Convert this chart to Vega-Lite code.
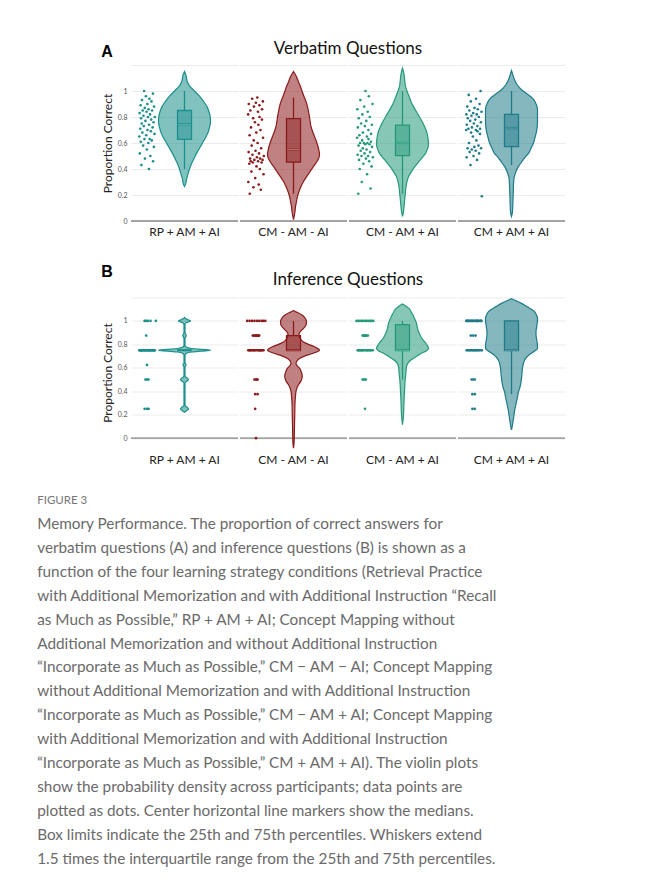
{
"$schema": "https://vega.github.io/schema/vega-lite/v6.json",
"padding": {"left": 37, "top": 40, "right": 10, "bottom": 10},
"background": "white",
"config": {
 "font": "Lato",
 "view": {"stroke": null},
 "axisY": {"grid": true, "gridColor": "#ebebeb", "gridWidth": 1, "domain": false, "ticks": false, "tickSize": 0, "labelFontSize": 7, "labelColor": "#555", "labelPadding": 3, "titleFontSize": 12, "titleFontWeight": "normal", "titleColor": "#222", "titlePadding": 3}
},
"datasets": {
"verb": [
{"c":"RP + AM + AI","k":"o","v":1.15,"w":0},{"c":"RP + AM + AI","k":"o","v":1.12,"w":3},{"c":"RP + AM + AI","k":"o","v":1.08,"w":5},{"c":"RP + AM + AI","k":"o","v":1.04,"w":10},{"c":"RP + AM + AI","k":"o","v":1.0,"w":20},{"c":"RP + AM + AI","k":"o","v":0.96,"w":30},{"c":"RP + AM + AI","k":"o","v":0.92,"w":38},{"c":"RP + AM + AI","k":"o","v":0.88,"w":45},{"c":"RP + AM + AI","k":"o","v":0.84,"w":49},{"c":"RP + AM + AI","k":"o","v":0.8,"w":51.5},{"c":"RP + AM + AI","k":"o","v":0.76,"w":52},{"c":"RP + AM + AI","k":"o","v":0.72,"w":50},{"c":"RP + AM + AI","k":"o","v":0.68,"w":47},{"c":"RP + AM + AI","k":"o","v":0.64,"w":42},{"c":"RP + AM + AI","k":"o","v":0.6,"w":36},{"c":"RP + AM + AI","k":"o","v":0.56,"w":30},{"c":"RP + AM + AI","k":"o","v":0.52,"w":24},{"c":"RP + AM + AI","k":"o","v":0.48,"w":19},{"c":"RP + AM + AI","k":"o","v":0.44,"w":14},{"c":"RP + AM + AI","k":"o","v":0.4,"w":10},{"c":"RP + AM + AI","k":"o","v":0.36,"w":7},{"c":"RP + AM + AI","k":"o","v":0.32,"w":4},{"c":"RP + AM + AI","k":"o","v":0.28,"w":2},{"c":"RP + AM + AI","k":"o","v":0.265,"w":0},
{"c":"CM - AM - AI","k":"o","v":1.15,"w":0},{"c":"CM - AM - AI","k":"o","v":1.11,"w":6},{"c":"CM - AM - AI","k":"o","v":1.07,"w":10},{"c":"CM - AM - AI","k":"o","v":1.035,"w":14},{"c":"CM - AM - AI","k":"o","v":1.0,"w":17},{"c":"CM - AM - AI","k":"o","v":0.958,"w":21},{"c":"CM - AM - AI","k":"o","v":0.92,"w":25},{"c":"CM - AM - AI","k":"o","v":0.88,"w":28},{"c":"CM - AM - AI","k":"o","v":0.84,"w":30},{"c":"CM - AM - AI","k":"o","v":0.8,"w":32},{"c":"CM - AM - AI","k":"o","v":0.76,"w":33.5},{"c":"CM - AM - AI","k":"o","v":0.727,"w":35},{"c":"CM - AM - AI","k":"o","v":0.69,"w":38},{"c":"CM - AM - AI","k":"o","v":0.65,"w":42},{"c":"CM - AM - AI","k":"o","v":0.61,"w":46},{"c":"CM - AM - AI","k":"o","v":0.573,"w":49},{"c":"CM - AM - AI","k":"o","v":0.54,"w":51},{"c":"CM - AM - AI","k":"o","v":0.52,"w":52},{"c":"CM - AM - AI","k":"o","v":0.49,"w":51},{"c":"CM - AM - AI","k":"o","v":0.458,"w":47},{"c":"CM - AM - AI","k":"o","v":0.42,"w":40},{"c":"CM - AM - AI","k":"o","v":0.38,"w":33},{"c":"CM - AM - AI","k":"o","v":0.34,"w":26},{"c":"CM - AM - AI","k":"o","v":0.304,"w":20},{"c":"CM - AM - AI","k":"o","v":0.265,"w":15},{"c":"CM - AM - AI","k":"o","v":0.227,"w":11},{"c":"CM - AM - AI","k":"o","v":0.19,"w":8},{"c":"CM - AM - AI","k":"o","v":0.15,"w":6},{"c":"CM - AM - AI","k":"o","v":0.11,"w":4},{"c":"CM - AM - AI","k":"o","v":0.073,"w":3},{"c":"CM - AM - AI","k":"o","v":0.04,"w":1.5},{"c":"CM - AM - AI","k":"o","v":0.01,"w":0},
{"c":"CM - AM + AI","k":"o","v":1.175,"w":0},{"c":"CM - AM + AI","k":"o","v":1.13,"w":3},{"c":"CM - AM + AI","k":"o","v":1.08,"w":4.5},{"c":"CM - AM + AI","k":"o","v":1.035,"w":6},{"c":"CM - AM + AI","k":"o","v":1.0,"w":9},{"c":"CM - AM + AI","k":"o","v":0.96,"w":13},{"c":"CM - AM + AI","k":"o","v":0.92,"w":17},{"c":"CM - AM + AI","k":"o","v":0.88,"w":22},{"c":"CM - AM + AI","k":"o","v":0.84,"w":28},{"c":"CM - AM + AI","k":"o","v":0.8,"w":34},{"c":"CM - AM + AI","k":"o","v":0.76,"w":40},{"c":"CM - AM + AI","k":"o","v":0.727,"w":44},{"c":"CM - AM + AI","k":"o","v":0.69,"w":48},{"c":"CM - AM + AI","k":"o","v":0.65,"w":50.5},{"c":"CM - AM + AI","k":"o","v":0.62,"w":51.5},{"c":"CM - AM + AI","k":"o","v":0.59,"w":52},{"c":"CM - AM + AI","k":"o","v":0.555,"w":50},{"c":"CM - AM + AI","k":"o","v":0.52,"w":46},{"c":"CM - AM + AI","k":"o","v":0.49,"w":40},{"c":"CM - AM + AI","k":"o","v":0.458,"w":33},{"c":"CM - AM + AI","k":"o","v":0.42,"w":25},{"c":"CM - AM + AI","k":"o","v":0.38,"w":18},{"c":"CM - AM + AI","k":"o","v":0.34,"w":12},{"c":"CM - AM + AI","k":"o","v":0.304,"w":9},{"c":"CM - AM + AI","k":"o","v":0.265,"w":7},{"c":"CM - AM + AI","k":"o","v":0.227,"w":6},{"c":"CM - AM + AI","k":"o","v":0.19,"w":5},{"c":"CM - AM + AI","k":"o","v":0.15,"w":4},{"c":"CM - AM + AI","k":"o","v":0.11,"w":3},{"c":"CM - AM + AI","k":"o","v":0.073,"w":2},{"c":"CM - AM + AI","k":"o","v":0.035,"w":0},
{"c":"CM + AM + AI","k":"o","v":1.157,"w":0},{"c":"CM + AM + AI","k":"o","v":1.12,"w":3},{"c":"CM + AM + AI","k":"o","v":1.086,"w":6},{"c":"CM + AM + AI","k":"o","v":1.05,"w":11},{"c":"CM + AM + AI","k":"o","v":1.01,"w":20},{"c":"CM + AM + AI","k":"o","v":0.975,"w":32},{"c":"CM + AM + AI","k":"o","v":0.945,"w":42},{"c":"CM + AM + AI","k":"o","v":0.91,"w":48},{"c":"CM + AM + AI","k":"o","v":0.88,"w":51},{"c":"CM + AM + AI","k":"o","v":0.855,"w":52},{"c":"CM + AM + AI","k":"o","v":0.8,"w":52},{"c":"CM + AM + AI","k":"o","v":0.765,"w":52},{"c":"CM + AM + AI","k":"o","v":0.73,"w":51.5},{"c":"CM + AM + AI","k":"o","v":0.688,"w":50},{"c":"CM + AM + AI","k":"o","v":0.65,"w":47.5},{"c":"CM + AM + AI","k":"o","v":0.6,"w":44},{"c":"CM + AM + AI","k":"o","v":0.56,"w":39},{"c":"CM + AM + AI","k":"o","v":0.52,"w":34},{"c":"CM + AM + AI","k":"o","v":0.49,"w":27},{"c":"CM + AM + AI","k":"o","v":0.458,"w":21},{"c":"CM + AM + AI","k":"o","v":0.42,"w":14},{"c":"CM + AM + AI","k":"o","v":0.39,"w":10},{"c":"CM + AM + AI","k":"o","v":0.36,"w":7},{"c":"CM + AM + AI","k":"o","v":0.33,"w":5},{"c":"CM + AM + AI","k":"o","v":0.28,"w":4},{"c":"CM + AM + AI","k":"o","v":0.227,"w":3.5},{"c":"CM + AM + AI","k":"o","v":0.17,"w":3},{"c":"CM + AM + AI","k":"o","v":0.11,"w":2.5},{"c":"CM + AM + AI","k":"o","v":0.07,"w":2},{"c":"CM + AM + AI","k":"o","v":0.035,"w":0},
{"c":"RP + AM + AI","k":"d","v":0.40,"j":0.62},{"c":"RP + AM + AI","k":"d","v":0.43,"j":0.15},{"c":"RP + AM + AI","k":"d","v":0.46,"j":0.88},{"c":"RP + AM + AI","k":"d","v":0.48,"j":0.37},{"c":"RP + AM + AI","k":"d","v":0.50,"j":0.71},{"c":"RP + AM + AI","k":"d","v":0.52,"j":0.05},{"c":"RP + AM + AI","k":"d","v":0.55,"j":0.49},{"c":"RP + AM + AI","k":"d","v":0.57,"j":0.93},{"c":"RP + AM + AI","k":"d","v":0.58,"j":0.26},{"c":"RP + AM + AI","k":"d","v":0.60,"j":0.58},{"c":"RP + AM + AI","k":"d","v":0.61,"j":0.11},{"c":"RP + AM + AI","k":"d","v":0.62,"j":0.80},{"c":"RP + AM + AI","k":"d","v":0.63,"j":0.34},{"c":"RP + AM + AI","k":"d","v":0.63,"j":0.67},{"c":"RP + AM + AI","k":"d","v":0.65,"j":0.02},{"c":"RP + AM + AI","k":"d","v":0.66,"j":0.45},{"c":"RP + AM + AI","k":"d","v":0.67,"j":0.97},{"c":"RP + AM + AI","k":"d","v":0.68,"j":0.21},{"c":"RP + AM + AI","k":"d","v":0.69,"j":0.74},{"c":"RP + AM + AI","k":"d","v":0.70,"j":0.53},{"c":"RP + AM + AI","k":"d","v":0.71,"j":0.08},{"c":"RP + AM + AI","k":"d","v":0.72,"j":0.85},{"c":"RP + AM + AI","k":"d","v":0.73,"j":0.30},{"c":"RP + AM + AI","k":"d","v":0.74,"j":0.63},{"c":"RP + AM + AI","k":"d","v":0.75,"j":0.17},{"c":"RP + AM + AI","k":"d","v":0.76,"j":0.91},{"c":"RP + AM + AI","k":"d","v":0.77,"j":0.40},{"c":"RP + AM + AI","k":"d","v":0.78,"j":0.76},{"c":"RP + AM + AI","k":"d","v":0.79,"j":0.13},{"c":"RP + AM + AI","k":"d","v":0.80,"j":0.56},{"c":"RP + AM + AI","k":"d","v":0.80,"j":0.99},{"c":"RP + AM + AI","k":"d","v":0.81,"j":0.28},{"c":"RP + AM + AI","k":"d","v":0.82,"j":0.69},{"c":"RP + AM + AI","k":"d","v":0.83,"j":0.04},{"c":"RP + AM + AI","k":"d","v":0.84,"j":0.47},{"c":"RP + AM + AI","k":"d","v":0.85,"j":0.82},{"c":"RP + AM + AI","k":"d","v":0.85,"j":0.23},{"c":"RP + AM + AI","k":"d","v":0.86,"j":0.60},{"c":"RP + AM + AI","k":"d","v":0.87,"j":0.36},{"c":"RP + AM + AI","k":"d","v":0.88,"j":0.94},{"c":"RP + AM + AI","k":"d","v":0.89,"j":0.10},{"c":"RP + AM + AI","k":"d","v":0.90,"j":0.52},{"c":"RP + AM + AI","k":"d","v":0.92,"j":0.78},{"c":"RP + AM + AI","k":"d","v":0.93,"j":0.19},{"c":"RP + AM + AI","k":"d","v":0.94,"j":0.65},{"c":"RP + AM + AI","k":"d","v":0.96,"j":0.43},{"c":"RP + AM + AI","k":"d","v":0.98,"j":0.87},{"c":"RP + AM + AI","k":"d","v":1.00,"j":0.32},
{"c":"CM - AM - AI","k":"d","v":0.21,"j":0.11},{"c":"CM - AM - AI","k":"d","v":0.24,"j":0.80},{"c":"CM - AM - AI","k":"d","v":0.26,"j":0.34},{"c":"CM - AM - AI","k":"d","v":0.28,"j":0.67},{"c":"CM - AM - AI","k":"d","v":0.30,"j":0.02},{"c":"CM - AM - AI","k":"d","v":0.33,"j":0.45},{"c":"CM - AM - AI","k":"d","v":0.36,"j":0.97},{"c":"CM - AM - AI","k":"d","v":0.38,"j":0.21},{"c":"CM - AM - AI","k":"d","v":0.40,"j":0.74},{"c":"CM - AM - AI","k":"d","v":0.42,"j":0.53},{"c":"CM - AM - AI","k":"d","v":0.44,"j":0.08},{"c":"CM - AM - AI","k":"d","v":0.45,"j":0.85},{"c":"CM - AM - AI","k":"d","v":0.45,"j":0.30},{"c":"CM - AM - AI","k":"d","v":0.46,"j":0.63},{"c":"CM - AM - AI","k":"d","v":0.46,"j":0.17},{"c":"CM - AM - AI","k":"d","v":0.47,"j":0.91},{"c":"CM - AM - AI","k":"d","v":0.47,"j":0.40},{"c":"CM - AM - AI","k":"d","v":0.48,"j":0.76},{"c":"CM - AM - AI","k":"d","v":0.48,"j":0.13},{"c":"CM - AM - AI","k":"d","v":0.49,"j":0.56},{"c":"CM - AM - AI","k":"d","v":0.50,"j":0.99},{"c":"CM - AM - AI","k":"d","v":0.51,"j":0.28},{"c":"CM - AM - AI","k":"d","v":0.52,"j":0.69},{"c":"CM - AM - AI","k":"d","v":0.53,"j":0.04},{"c":"CM - AM - AI","k":"d","v":0.54,"j":0.47},{"c":"CM - AM - AI","k":"d","v":0.56,"j":0.82},{"c":"CM - AM - AI","k":"d","v":0.58,"j":0.23},{"c":"CM - AM - AI","k":"d","v":0.60,"j":0.60},{"c":"CM - AM - AI","k":"d","v":0.62,"j":0.36},{"c":"CM - AM - AI","k":"d","v":0.64,"j":0.94},{"c":"CM - AM - AI","k":"d","v":0.66,"j":0.10},{"c":"CM - AM - AI","k":"d","v":0.68,"j":0.52},{"c":"CM - AM - AI","k":"d","v":0.70,"j":0.78},{"c":"CM - AM - AI","k":"d","v":0.72,"j":0.19},{"c":"CM - AM - AI","k":"d","v":0.74,"j":0.65},{"c":"CM - AM - AI","k":"d","v":0.76,"j":0.43},{"c":"CM - AM - AI","k":"d","v":0.78,"j":0.87},{"c":"CM - AM - AI","k":"d","v":0.79,"j":0.32},{"c":"CM - AM - AI","k":"d","v":0.80,"j":0.72},{"c":"CM - AM - AI","k":"d","v":0.82,"j":0.01},{"c":"CM - AM - AI","k":"d","v":0.84,"j":0.62},{"c":"CM - AM - AI","k":"d","v":0.85,"j":0.15},{"c":"CM - AM - AI","k":"d","v":0.86,"j":0.88},{"c":"CM - AM - AI","k":"d","v":0.88,"j":0.37},{"c":"CM - AM - AI","k":"d","v":0.89,"j":0.71},{"c":"CM - AM - AI","k":"d","v":0.90,"j":0.05},{"c":"CM - AM - AI","k":"d","v":0.91,"j":0.49},{"c":"CM - AM - AI","k":"d","v":0.92,"j":0.93},{"c":"CM - AM - AI","k":"d","v":0.94,"j":0.26},{"c":"CM - AM - AI","k":"d","v":0.95,"j":0.58},
{"c":"CM - AM + AI","k":"d","v":0.21,"j":0.08},{"c":"CM - AM + AI","k":"d","v":0.25,"j":0.85},{"c":"CM - AM + AI","k":"d","v":0.30,"j":0.30},{"c":"CM - AM + AI","k":"d","v":0.36,"j":0.63},{"c":"CM - AM + AI","k":"d","v":0.40,"j":0.17},{"c":"CM - AM + AI","k":"d","v":0.42,"j":0.91},{"c":"CM - AM + AI","k":"d","v":0.44,"j":0.40},{"c":"CM - AM + AI","k":"d","v":0.46,"j":0.76},{"c":"CM - AM + AI","k":"d","v":0.47,"j":0.13},{"c":"CM - AM + AI","k":"d","v":0.48,"j":0.56},{"c":"CM - AM + AI","k":"d","v":0.49,"j":0.99},{"c":"CM - AM + AI","k":"d","v":0.50,"j":0.28},{"c":"CM - AM + AI","k":"d","v":0.50,"j":0.69},{"c":"CM - AM + AI","k":"d","v":0.51,"j":0.04},{"c":"CM - AM + AI","k":"d","v":0.52,"j":0.47},{"c":"CM - AM + AI","k":"d","v":0.53,"j":0.82},{"c":"CM - AM + AI","k":"d","v":0.54,"j":0.23},{"c":"CM - AM + AI","k":"d","v":0.55,"j":0.60},{"c":"CM - AM + AI","k":"d","v":0.56,"j":0.36},{"c":"CM - AM + AI","k":"d","v":0.57,"j":0.94},{"c":"CM - AM + AI","k":"d","v":0.58,"j":0.10},{"c":"CM - AM + AI","k":"d","v":0.59,"j":0.52},{"c":"CM - AM + AI","k":"d","v":0.59,"j":0.78},{"c":"CM - AM + AI","k":"d","v":0.60,"j":0.19},{"c":"CM - AM + AI","k":"d","v":0.60,"j":0.65},{"c":"CM - AM + AI","k":"d","v":0.60,"j":0.43},{"c":"CM - AM + AI","k":"d","v":0.61,"j":0.87},{"c":"CM - AM + AI","k":"d","v":0.62,"j":0.32},{"c":"CM - AM + AI","k":"d","v":0.63,"j":0.72},{"c":"CM - AM + AI","k":"d","v":0.64,"j":0.01},{"c":"CM - AM + AI","k":"d","v":0.65,"j":0.62},{"c":"CM - AM + AI","k":"d","v":0.66,"j":0.15},{"c":"CM - AM + AI","k":"d","v":0.67,"j":0.88},{"c":"CM - AM + AI","k":"d","v":0.68,"j":0.37},{"c":"CM - AM + AI","k":"d","v":0.70,"j":0.71},{"c":"CM - AM + AI","k":"d","v":0.72,"j":0.05},{"c":"CM - AM + AI","k":"d","v":0.73,"j":0.49},{"c":"CM - AM + AI","k":"d","v":0.74,"j":0.93},{"c":"CM - AM + AI","k":"d","v":0.75,"j":0.26},{"c":"CM - AM + AI","k":"d","v":0.77,"j":0.58},{"c":"CM - AM + AI","k":"d","v":0.79,"j":0.11},{"c":"CM - AM + AI","k":"d","v":0.80,"j":0.80},{"c":"CM - AM + AI","k":"d","v":0.82,"j":0.34},{"c":"CM - AM + AI","k":"d","v":0.84,"j":0.67},{"c":"CM - AM + AI","k":"d","v":0.86,"j":0.02},{"c":"CM - AM + AI","k":"d","v":0.88,"j":0.45},{"c":"CM - AM + AI","k":"d","v":0.90,"j":0.97},{"c":"CM - AM + AI","k":"d","v":0.93,"j":0.21},{"c":"CM - AM + AI","k":"d","v":0.96,"j":0.74},{"c":"CM - AM + AI","k":"d","v":1.00,"j":0.53},
{"c":"CM + AM + AI","k":"d","v":0.19,"j":0.99},{"c":"CM + AM + AI","k":"d","v":0.43,"j":0.28},{"c":"CM + AM + AI","k":"d","v":0.47,"j":0.69},{"c":"CM + AM + AI","k":"d","v":0.49,"j":0.04},{"c":"CM + AM + AI","k":"d","v":0.50,"j":0.47},{"c":"CM + AM + AI","k":"d","v":0.52,"j":0.82},{"c":"CM + AM + AI","k":"d","v":0.53,"j":0.23},{"c":"CM + AM + AI","k":"d","v":0.54,"j":0.60},{"c":"CM + AM + AI","k":"d","v":0.55,"j":0.36},{"c":"CM + AM + AI","k":"d","v":0.56,"j":0.94},{"c":"CM + AM + AI","k":"d","v":0.56,"j":0.10},{"c":"CM + AM + AI","k":"d","v":0.57,"j":0.52},{"c":"CM + AM + AI","k":"d","v":0.58,"j":0.78},{"c":"CM + AM + AI","k":"d","v":0.60,"j":0.19},{"c":"CM + AM + AI","k":"d","v":0.62,"j":0.65},{"c":"CM + AM + AI","k":"d","v":0.65,"j":0.43},{"c":"CM + AM + AI","k":"d","v":0.67,"j":0.87},{"c":"CM + AM + AI","k":"d","v":0.68,"j":0.32},{"c":"CM + AM + AI","k":"d","v":0.69,"j":0.72},{"c":"CM + AM + AI","k":"d","v":0.70,"j":0.01},{"c":"CM + AM + AI","k":"d","v":0.70,"j":0.62},{"c":"CM + AM + AI","k":"d","v":0.71,"j":0.15},{"c":"CM + AM + AI","k":"d","v":0.71,"j":0.88},{"c":"CM + AM + AI","k":"d","v":0.72,"j":0.37},{"c":"CM + AM + AI","k":"d","v":0.73,"j":0.71},{"c":"CM + AM + AI","k":"d","v":0.74,"j":0.05},{"c":"CM + AM + AI","k":"d","v":0.75,"j":0.49},{"c":"CM + AM + AI","k":"d","v":0.76,"j":0.93},{"c":"CM + AM + AI","k":"d","v":0.77,"j":0.26},{"c":"CM + AM + AI","k":"d","v":0.78,"j":0.58},{"c":"CM + AM + AI","k":"d","v":0.79,"j":0.11},{"c":"CM + AM + AI","k":"d","v":0.80,"j":0.80},{"c":"CM + AM + AI","k":"d","v":0.81,"j":0.34},{"c":"CM + AM + AI","k":"d","v":0.82,"j":0.67},{"c":"CM + AM + AI","k":"d","v":0.82,"j":0.02},{"c":"CM + AM + AI","k":"d","v":0.83,"j":0.45},{"c":"CM + AM + AI","k":"d","v":0.84,"j":0.97},{"c":"CM + AM + AI","k":"d","v":0.85,"j":0.21},{"c":"CM + AM + AI","k":"d","v":0.86,"j":0.74},{"c":"CM + AM + AI","k":"d","v":0.87,"j":0.53},{"c":"CM + AM + AI","k":"d","v":0.88,"j":0.08},{"c":"CM + AM + AI","k":"d","v":0.90,"j":0.85},{"c":"CM + AM + AI","k":"d","v":0.92,"j":0.30},{"c":"CM + AM + AI","k":"d","v":0.94,"j":0.63},{"c":"CM + AM + AI","k":"d","v":0.97,"j":0.17},{"c":"CM + AM + AI","k":"d","v":1.00,"j":0.91}
],
"inf": [
{"c":"RP + AM + AI","k":"o","v":1.03,"w":0},{"c":"RP + AM + AI","k":"o","v":1.02,"w":2},{"c":"RP + AM + AI","k":"o","v":1.01,"w":7},{"c":"RP + AM + AI","k":"o","v":1.0,"w":12},{"c":"RP + AM + AI","k":"o","v":0.99,"w":7},{"c":"RP + AM + AI","k":"o","v":0.98,"w":2},{"c":"RP + AM + AI","k":"o","v":0.965,"w":1},{"c":"RP + AM + AI","k":"o","v":0.9,"w":1},{"c":"RP + AM + AI","k":"o","v":0.885,"w":2.5},{"c":"RP + AM + AI","k":"o","v":0.875,"w":3.5},{"c":"RP + AM + AI","k":"o","v":0.865,"w":2.5},{"c":"RP + AM + AI","k":"o","v":0.85,"w":1},{"c":"RP + AM + AI","k":"o","v":0.79,"w":1},{"c":"RP + AM + AI","k":"o","v":0.775,"w":4},{"c":"RP + AM + AI","k":"o","v":0.765,"w":14},{"c":"RP + AM + AI","k":"o","v":0.757,"w":34},{"c":"RP + AM + AI","k":"o","v":0.75,"w":52},{"c":"RP + AM + AI","k":"o","v":0.743,"w":34},{"c":"RP + AM + AI","k":"o","v":0.735,"w":14},{"c":"RP + AM + AI","k":"o","v":0.725,"w":4},{"c":"RP + AM + AI","k":"o","v":0.71,"w":1},{"c":"RP + AM + AI","k":"o","v":0.64,"w":1},{"c":"RP + AM + AI","k":"o","v":0.632,"w":2.5},{"c":"RP + AM + AI","k":"o","v":0.625,"w":3},{"c":"RP + AM + AI","k":"o","v":0.618,"w":2.5},{"c":"RP + AM + AI","k":"o","v":0.61,"w":1},{"c":"RP + AM + AI","k":"o","v":0.53,"w":1},{"c":"RP + AM + AI","k":"o","v":0.52,"w":3},{"c":"RP + AM + AI","k":"o","v":0.51,"w":6},{"c":"RP + AM + AI","k":"o","v":0.5,"w":8},{"c":"RP + AM + AI","k":"o","v":0.49,"w":6},{"c":"RP + AM + AI","k":"o","v":0.48,"w":3},{"c":"RP + AM + AI","k":"o","v":0.47,"w":1},{"c":"RP + AM + AI","k":"o","v":0.28,"w":1},{"c":"RP + AM + AI","k":"o","v":0.27,"w":3},{"c":"RP + AM + AI","k":"o","v":0.26,"w":6},{"c":"RP + AM + AI","k":"o","v":0.25,"w":8},{"c":"RP + AM + AI","k":"o","v":0.24,"w":6},{"c":"RP + AM + AI","k":"o","v":0.23,"w":3},{"c":"RP + AM + AI","k":"o","v":0.22,"w":0},
{"c":"CM - AM - AI","k":"o","v":1.09,"w":0},{"c":"CM - AM - AI","k":"o","v":1.075,"w":6},{"c":"CM - AM - AI","k":"o","v":1.065,"w":11},{"c":"CM - AM - AI","k":"o","v":1.05,"w":17},{"c":"CM - AM - AI","k":"o","v":1.03,"w":22},{"c":"CM - AM - AI","k":"o","v":1.01,"w":25},{"c":"CM - AM - AI","k":"o","v":0.99,"w":26},{"c":"CM - AM - AI","k":"o","v":0.964,"w":25},{"c":"CM - AM - AI","k":"o","v":0.94,"w":21},{"c":"CM - AM - AI","k":"o","v":0.92,"w":16},{"c":"CM - AM - AI","k":"o","v":0.9,"w":12},{"c":"CM - AM - AI","k":"o","v":0.88,"w":11},{"c":"CM - AM - AI","k":"o","v":0.86,"w":12},{"c":"CM - AM - AI","k":"o","v":0.84,"w":15},{"c":"CM - AM - AI","k":"o","v":0.82,"w":20},{"c":"CM - AM - AI","k":"o","v":0.8,"w":30},{"c":"CM - AM - AI","k":"o","v":0.78,"w":42},{"c":"CM - AM - AI","k":"o","v":0.76,"w":50},{"c":"CM - AM - AI","k":"o","v":0.75,"w":52},{"c":"CM - AM - AI","k":"o","v":0.735,"w":46},{"c":"CM - AM - AI","k":"o","v":0.72,"w":36},{"c":"CM - AM - AI","k":"o","v":0.7,"w":22},{"c":"CM - AM - AI","k":"o","v":0.68,"w":12},{"c":"CM - AM - AI","k":"o","v":0.66,"w":7},{"c":"CM - AM - AI","k":"o","v":0.64,"w":5},{"c":"CM - AM - AI","k":"o","v":0.62,"w":7},{"c":"CM - AM - AI","k":"o","v":0.597,"w":12},{"c":"CM - AM - AI","k":"o","v":0.56,"w":16},{"c":"CM - AM - AI","k":"o","v":0.53,"w":17.5},{"c":"CM - AM - AI","k":"o","v":0.512,"w":17},{"c":"CM - AM - AI","k":"o","v":0.48,"w":14},{"c":"CM - AM - AI","k":"o","v":0.455,"w":10},{"c":"CM - AM - AI","k":"o","v":0.43,"w":7},{"c":"CM - AM - AI","k":"o","v":0.398,"w":5},{"c":"CM - AM - AI","k":"o","v":0.36,"w":4},{"c":"CM - AM - AI","k":"o","v":0.3,"w":3},{"c":"CM - AM - AI","k":"o","v":0.2,"w":2.5},{"c":"CM - AM - AI","k":"o","v":0.11,"w":2},{"c":"CM - AM - AI","k":"o","v":0.0,"w":1.5},{"c":"CM - AM - AI","k":"o","v":-0.05,"w":1},{"c":"CM - AM - AI","k":"o","v":-0.085,"w":0},
{"c":"CM - AM + AI","k":"o","v":1.145,"w":0},{"c":"CM - AM + AI","k":"o","v":1.125,"w":7},{"c":"CM - AM + AI","k":"o","v":1.107,"w":13},{"c":"CM - AM + AI","k":"o","v":1.08,"w":17},{"c":"CM - AM + AI","k":"o","v":1.05,"w":21},{"c":"CM - AM + AI","k":"o","v":1.02,"w":24},{"c":"CM - AM + AI","k":"o","v":0.993,"w":27},{"c":"CM - AM + AI","k":"o","v":0.96,"w":29},{"c":"CM - AM + AI","k":"o","v":0.937,"w":30},{"c":"CM - AM + AI","k":"o","v":0.91,"w":32},{"c":"CM - AM + AI","k":"o","v":0.88,"w":35},{"c":"CM - AM + AI","k":"o","v":0.85,"w":39},{"c":"CM - AM + AI","k":"o","v":0.824,"w":44},{"c":"CM - AM + AI","k":"o","v":0.795,"w":49},{"c":"CM - AM + AI","k":"o","v":0.767,"w":52},{"c":"CM - AM + AI","k":"o","v":0.745,"w":48},{"c":"CM - AM + AI","k":"o","v":0.724,"w":38},{"c":"CM - AM + AI","k":"o","v":0.7,"w":29},{"c":"CM - AM + AI","k":"o","v":0.682,"w":22},{"c":"CM - AM + AI","k":"o","v":0.66,"w":15},{"c":"CM - AM + AI","k":"o","v":0.64,"w":11},{"c":"CM - AM + AI","k":"o","v":0.61,"w":8},{"c":"CM - AM + AI","k":"o","v":0.57,"w":7},{"c":"CM - AM + AI","k":"o","v":0.52,"w":6},{"c":"CM - AM + AI","k":"o","v":0.48,"w":5},{"c":"CM - AM + AI","k":"o","v":0.398,"w":4},{"c":"CM - AM + AI","k":"o","v":0.313,"w":3},{"c":"CM - AM + AI","k":"o","v":0.2,"w":2},{"c":"CM - AM + AI","k":"o","v":0.114,"w":0},
{"c":"CM + AM + AI","k":"o","v":1.19,"w":0},{"c":"CM + AM + AI","k":"o","v":1.175,"w":8},{"c":"CM + AM + AI","k":"o","v":1.15,"w":20},{"c":"CM + AM + AI","k":"o","v":1.12,"w":32},{"c":"CM + AM + AI","k":"o","v":1.1,"w":40},{"c":"CM + AM + AI","k":"o","v":1.079,"w":46},{"c":"CM + AM + AI","k":"o","v":1.05,"w":50},{"c":"CM + AM + AI","k":"o","v":1.02,"w":52},{"c":"CM + AM + AI","k":"o","v":1.0,"w":52},{"c":"CM + AM + AI","k":"o","v":0.97,"w":51},{"c":"CM + AM + AI","k":"o","v":0.937,"w":50},{"c":"CM + AM + AI","k":"o","v":0.91,"w":49},{"c":"CM + AM + AI","k":"o","v":0.88,"w":49},{"c":"CM + AM + AI","k":"o","v":0.85,"w":50},{"c":"CM + AM + AI","k":"o","v":0.824,"w":51},{"c":"CM + AM + AI","k":"o","v":0.79,"w":52},{"c":"CM + AM + AI","k":"o","v":0.767,"w":52},{"c":"CM + AM + AI","k":"o","v":0.745,"w":47},{"c":"CM + AM + AI","k":"o","v":0.725,"w":40},{"c":"CM + AM + AI","k":"o","v":0.71,"w":35},{"c":"CM + AM + AI","k":"o","v":0.69,"w":30},{"c":"CM + AM + AI","k":"o","v":0.653,"w":25},{"c":"CM + AM + AI","k":"o","v":0.62,"w":23},{"c":"CM + AM + AI","k":"o","v":0.597,"w":22},{"c":"CM + AM + AI","k":"o","v":0.55,"w":21},{"c":"CM + AM + AI","k":"o","v":0.512,"w":20},{"c":"CM + AM + AI","k":"o","v":0.48,"w":19},{"c":"CM + AM + AI","k":"o","v":0.455,"w":18},{"c":"CM + AM + AI","k":"o","v":0.42,"w":16},{"c":"CM + AM + AI","k":"o","v":0.398,"w":14},{"c":"CM + AM + AI","k":"o","v":0.35,"w":12},{"c":"CM + AM + AI","k":"o","v":0.313,"w":10},{"c":"CM + AM + AI","k":"o","v":0.27,"w":8},{"c":"CM + AM + AI","k":"o","v":0.228,"w":6},{"c":"CM + AM + AI","k":"o","v":0.18,"w":4.5},{"c":"CM + AM + AI","k":"o","v":0.142,"w":3},{"c":"CM + AM + AI","k":"o","v":0.1,"w":1.5},{"c":"CM + AM + AI","k":"o","v":0.071,"w":0},
{"c":"RP + AM + AI","k":"d","v":0.25,"j":0.35},{"c":"RP + AM + AI","k":"d","v":0.25,"j":0.5},{"c":"RP + AM + AI","k":"d","v":0.25,"j":0.6},{"c":"RP + AM + AI","k":"d","v":0.5,"j":0.4},{"c":"RP + AM + AI","k":"d","v":0.5,"j":0.5},{"c":"RP + AM + AI","k":"d","v":0.5,"j":0.6},{"c":"RP + AM + AI","k":"d","v":0.625,"j":0.5},{"c":"RP + AM + AI","k":"d","v":0.875,"j":0.45},{"c":"RP + AM + AI","k":"d","v":1.0,"j":0.35},{"c":"RP + AM + AI","k":"d","v":1.0,"j":0.45},{"c":"RP + AM + AI","k":"d","v":1.0,"j":0.55},{"c":"RP + AM + AI","k":"d","v":1.0,"j":0.72},{"c":"RP + AM + AI","k":"d","v":1.0,"j":1.05},
{"c":"RP + AM + AI","k":"d","v":0.75,"j":0.62},{"c":"RP + AM + AI","k":"d","v":0.75,"j":0.15},{"c":"RP + AM + AI","k":"d","v":0.75,"j":0.88},{"c":"RP + AM + AI","k":"d","v":0.75,"j":0.37},{"c":"RP + AM + AI","k":"d","v":0.75,"j":0.71},{"c":"RP + AM + AI","k":"d","v":0.75,"j":0.05},{"c":"RP + AM + AI","k":"d","v":0.75,"j":0.49},{"c":"RP + AM + AI","k":"d","v":0.75,"j":0.93},{"c":"RP + AM + AI","k":"d","v":0.75,"j":0.26},{"c":"RP + AM + AI","k":"d","v":0.75,"j":0.58},{"c":"RP + AM + AI","k":"d","v":0.75,"j":0.11},{"c":"RP + AM + AI","k":"d","v":0.75,"j":0.80},{"c":"RP + AM + AI","k":"d","v":0.75,"j":0.34},{"c":"RP + AM + AI","k":"d","v":0.75,"j":0.67},{"c":"RP + AM + AI","k":"d","v":0.75,"j":0.02},{"c":"RP + AM + AI","k":"d","v":0.75,"j":0.45},{"c":"RP + AM + AI","k":"d","v":0.75,"j":0.97},{"c":"RP + AM + AI","k":"d","v":0.75,"j":0.21},{"c":"RP + AM + AI","k":"d","v":0.75,"j":0.74},{"c":"RP + AM + AI","k":"d","v":0.75,"j":0.53},{"c":"RP + AM + AI","k":"d","v":0.75,"j":0.08},{"c":"RP + AM + AI","k":"d","v":0.75,"j":0.85},{"c":"RP + AM + AI","k":"d","v":0.75,"j":0.30},{"c":"RP + AM + AI","k":"d","v":0.75,"j":0.63},{"c":"RP + AM + AI","k":"d","v":0.75,"j":0.17},{"c":"RP + AM + AI","k":"d","v":0.75,"j":0.91},{"c":"RP + AM + AI","k":"d","v":0.75,"j":0.40},{"c":"RP + AM + AI","k":"d","v":0.75,"j":0.76},{"c":"RP + AM + AI","k":"d","v":0.75,"j":0.13},{"c":"RP + AM + AI","k":"d","v":0.75,"j":0.56},{"c":"RP + AM + AI","k":"d","v":0.75,"j":0.99},
{"c":"CM - AM - AI","k":"d","v":0.0,"j":0.5},{"c":"CM - AM - AI","k":"d","v":0.25,"j":0.45},{"c":"CM - AM - AI","k":"d","v":0.375,"j":0.45},{"c":"CM - AM - AI","k":"d","v":0.375,"j":0.6},{"c":"CM - AM - AI","k":"d","v":0.5,"j":0.4},{"c":"CM - AM - AI","k":"d","v":0.5,"j":0.5},{"c":"CM - AM - AI","k":"d","v":0.5,"j":0.55},{"c":"CM - AM - AI","k":"d","v":0.5,"j":0.6},
{"c":"CM - AM - AI","k":"d","v":0.75,"j":0.11},{"c":"CM - AM - AI","k":"d","v":0.75,"j":0.80},{"c":"CM - AM - AI","k":"d","v":0.75,"j":0.34},{"c":"CM - AM - AI","k":"d","v":0.75,"j":0.67},{"c":"CM - AM - AI","k":"d","v":0.75,"j":0.02},{"c":"CM - AM - AI","k":"d","v":0.75,"j":0.45},{"c":"CM - AM - AI","k":"d","v":0.75,"j":0.97},{"c":"CM - AM - AI","k":"d","v":0.75,"j":0.21},{"c":"CM - AM - AI","k":"d","v":0.75,"j":0.74},{"c":"CM - AM - AI","k":"d","v":0.75,"j":0.53},{"c":"CM - AM - AI","k":"d","v":0.75,"j":0.08},{"c":"CM - AM - AI","k":"d","v":0.75,"j":0.85},{"c":"CM - AM - AI","k":"d","v":0.75,"j":0.30},{"c":"CM - AM - AI","k":"d","v":0.75,"j":0.63},{"c":"CM - AM - AI","k":"d","v":0.75,"j":0.17},{"c":"CM - AM - AI","k":"d","v":0.75,"j":0.91},{"c":"CM - AM - AI","k":"d","v":0.75,"j":0.40},{"c":"CM - AM - AI","k":"d","v":0.75,"j":0.76},
{"c":"CM - AM - AI","k":"d","v":0.875,"j":0.3},{"c":"CM - AM - AI","k":"d","v":0.875,"j":0.38},{"c":"CM - AM - AI","k":"d","v":0.875,"j":0.45},{"c":"CM - AM - AI","k":"d","v":0.875,"j":0.5},{"c":"CM - AM - AI","k":"d","v":0.875,"j":0.55},{"c":"CM - AM - AI","k":"d","v":0.875,"j":0.6},{"c":"CM - AM - AI","k":"d","v":0.875,"j":0.65},{"c":"CM - AM - AI","k":"d","v":0.875,"j":0.7},
{"c":"CM - AM - AI","k":"d","v":1.0,"j":-0.05},{"c":"CM - AM - AI","k":"d","v":1.0,"j":0.1},{"c":"CM - AM - AI","k":"d","v":1.0,"j":0.25},{"c":"CM - AM - AI","k":"d","v":1.0,"j":0.4},{"c":"CM - AM - AI","k":"d","v":1.0,"j":0.55},{"c":"CM - AM - AI","k":"d","v":1.0,"j":0.7},{"c":"CM - AM - AI","k":"d","v":1.0,"j":0.85},{"c":"CM - AM - AI","k":"d","v":1.0,"j":0.95},{"c":"CM - AM - AI","k":"d","v":1.0,"j":1.08},
{"c":"CM - AM + AI","k":"d","v":0.25,"j":0.5},{"c":"CM - AM + AI","k":"d","v":0.5,"j":0.35},{"c":"CM - AM + AI","k":"d","v":0.5,"j":0.42},{"c":"CM - AM + AI","k":"d","v":0.5,"j":0.5},{"c":"CM - AM + AI","k":"d","v":0.5,"j":0.55},
{"c":"CM - AM + AI","k":"d","v":0.75,"j":0.08},{"c":"CM - AM + AI","k":"d","v":0.75,"j":0.85},{"c":"CM - AM + AI","k":"d","v":0.75,"j":0.30},{"c":"CM - AM + AI","k":"d","v":0.75,"j":0.63},{"c":"CM - AM + AI","k":"d","v":0.75,"j":0.17},{"c":"CM - AM + AI","k":"d","v":0.75,"j":0.91},{"c":"CM - AM + AI","k":"d","v":0.75,"j":0.40},{"c":"CM - AM + AI","k":"d","v":0.75,"j":0.76},{"c":"CM - AM + AI","k":"d","v":0.75,"j":0.13},{"c":"CM - AM + AI","k":"d","v":0.75,"j":0.56},{"c":"CM - AM + AI","k":"d","v":0.75,"j":0.99},{"c":"CM - AM + AI","k":"d","v":0.75,"j":0.28},{"c":"CM - AM + AI","k":"d","v":0.75,"j":0.69},{"c":"CM - AM + AI","k":"d","v":0.75,"j":0.04},{"c":"CM - AM + AI","k":"d","v":0.75,"j":0.47},{"c":"CM - AM + AI","k":"d","v":0.75,"j":0.82},{"c":"CM - AM + AI","k":"d","v":0.75,"j":0.23},{"c":"CM - AM + AI","k":"d","v":0.75,"j":0.60},{"c":"CM - AM + AI","k":"d","v":0.75,"j":0.36},
{"c":"CM - AM + AI","k":"d","v":0.875,"j":0.35},{"c":"CM - AM + AI","k":"d","v":0.875,"j":0.4},{"c":"CM - AM + AI","k":"d","v":0.875,"j":0.45},{"c":"CM - AM + AI","k":"d","v":0.875,"j":0.5},{"c":"CM - AM + AI","k":"d","v":0.875,"j":0.55},{"c":"CM - AM + AI","k":"d","v":0.875,"j":0.6},{"c":"CM - AM + AI","k":"d","v":0.875,"j":0.68},
{"c":"CM - AM + AI","k":"d","v":1.0,"j":-0.03},{"c":"CM - AM + AI","k":"d","v":1.0,"j":0.08},{"c":"CM - AM + AI","k":"d","v":1.0,"j":0.19},{"c":"CM - AM + AI","k":"d","v":1.0,"j":0.31},{"c":"CM - AM + AI","k":"d","v":1.0,"j":0.4},{"c":"CM - AM + AI","k":"d","v":1.0,"j":0.52},{"c":"CM - AM + AI","k":"d","v":1.0,"j":0.6},{"c":"CM - AM + AI","k":"d","v":1.0,"j":0.71},{"c":"CM - AM + AI","k":"d","v":1.0,"j":0.83},{"c":"CM - AM + AI","k":"d","v":1.0,"j":0.9},{"c":"CM - AM + AI","k":"d","v":1.0,"j":1.02},
{"c":"CM + AM + AI","k":"d","v":0.25,"j":0.4},{"c":"CM + AM + AI","k":"d","v":0.25,"j":0.55},{"c":"CM + AM + AI","k":"d","v":0.375,"j":0.4},{"c":"CM + AM + AI","k":"d","v":0.375,"j":0.55},{"c":"CM + AM + AI","k":"d","v":0.5,"j":0.35},{"c":"CM + AM + AI","k":"d","v":0.5,"j":0.45},{"c":"CM + AM + AI","k":"d","v":0.5,"j":0.55},
{"c":"CM + AM + AI","k":"d","v":0.75,"j":0.99},{"c":"CM + AM + AI","k":"d","v":0.75,"j":0.28},{"c":"CM + AM + AI","k":"d","v":0.75,"j":0.69},{"c":"CM + AM + AI","k":"d","v":0.75,"j":0.04},{"c":"CM + AM + AI","k":"d","v":0.75,"j":0.47},{"c":"CM + AM + AI","k":"d","v":0.75,"j":0.82},{"c":"CM + AM + AI","k":"d","v":0.75,"j":0.23},{"c":"CM + AM + AI","k":"d","v":0.75,"j":0.60},{"c":"CM + AM + AI","k":"d","v":0.75,"j":0.36},{"c":"CM + AM + AI","k":"d","v":0.75,"j":0.94},{"c":"CM + AM + AI","k":"d","v":0.75,"j":0.10},{"c":"CM + AM + AI","k":"d","v":0.75,"j":0.52},{"c":"CM + AM + AI","k":"d","v":0.75,"j":0.78},{"c":"CM + AM + AI","k":"d","v":0.75,"j":0.19},{"c":"CM + AM + AI","k":"d","v":0.75,"j":0.65},{"c":"CM + AM + AI","k":"d","v":0.75,"j":0.43},
{"c":"CM + AM + AI","k":"d","v":0.875,"j":0.3},{"c":"CM + AM + AI","k":"d","v":0.875,"j":0.45},{"c":"CM + AM + AI","k":"d","v":0.875,"j":0.6},
{"c":"CM + AM + AI","k":"d","v":1.0,"j":0.62},{"c":"CM + AM + AI","k":"d","v":1.0,"j":0.15},{"c":"CM + AM + AI","k":"d","v":1.0,"j":0.88},{"c":"CM + AM + AI","k":"d","v":1.0,"j":0.37},{"c":"CM + AM + AI","k":"d","v":1.0,"j":0.71},{"c":"CM + AM + AI","k":"d","v":1.0,"j":0.05},{"c":"CM + AM + AI","k":"d","v":1.0,"j":0.49},{"c":"CM + AM + AI","k":"d","v":1.0,"j":0.93},{"c":"CM + AM + AI","k":"d","v":1.0,"j":0.26},{"c":"CM + AM + AI","k":"d","v":1.0,"j":0.58},{"c":"CM + AM + AI","k":"d","v":1.0,"j":0.11},{"c":"CM + AM + AI","k":"d","v":1.0,"j":0.80},{"c":"CM + AM + AI","k":"d","v":1.0,"j":0.34},{"c":"CM + AM + AI","k":"d","v":1.0,"j":0.67},{"c":"CM + AM + AI","k":"d","v":1.0,"j":0.02},{"c":"CM + AM + AI","k":"d","v":1.0,"j":0.45},{"c":"CM + AM + AI","k":"d","v":1.0,"j":0.97},{"c":"CM + AM + AI","k":"d","v":1.0,"j":0.21},{"c":"CM + AM + AI","k":"d","v":1.0,"j":0.74}
]
},
"title": {
 "text": "FIGURE 3",
 "subtitle": [
  "Memory Performance. The proportion of correct answers for",
  "verbatim questions (A) and inference questions (B) is shown as a",
  "function of the four learning strategy conditions (Retrieval Practice",
  "with Additional Memorization and with Additional Instruction “Recall",
  "as Much as Possible,” RP + AM + AI; Concept Mapping without",
  "Additional Memorization and without Additional Instruction",
  "“Incorporate as Much as Possible,” CM − AM − AI; Concept Mapping",
  "without Additional Memorization and with Additional Instruction",
  "“Incorporate as Much as Possible,” CM − AM + AI; Concept Mapping",
  "with Additional Memorization and with Additional Instruction",
  "“Incorporate as Much as Possible,” CM + AM + AI). The violin plots",
  "show the probability density across participants; data points are",
  "plotted as dots. Center horizontal line markers show the medians.",
  "Box limits indicate the 25th and 75th percentiles. Whiskers extend",
  "1.5 times the interquartile range from the 25th and 75th percentiles."
 ],
 "orient": "bottom", "anchor": "start", "frame": "bounds",
 "font": "Lato", "fontSize": 11.5, "fontWeight": "normal", "color": "#777",
 "subtitleFont": "Lato", "subtitleFontSize": 15.3, "subtitleColor": "#6a6a6a", "subtitleLineHeight": 23.9, "subtitlePadding": 11,
 "offset": 29, "dx": -64
},
"spacing": 25.5,
"vconcat": [
 {
  "data": {"name": "verb"},
  "title": {"text": "A", "anchor": "start", "frame": "bounds", "font": "Liberation Sans", "fontSize": 16, "fontWeight": "bold", "color": "#000", "offset": -20},
  "facet": {"column": {"field": "c", "type": "nominal", "sort": ["RP + AM + AI","CM - AM - AI","CM - AM + AI","CM + AM + AI"],
    "header": {"title": "Verbatim Questions", "titleOrient": "top", "titleFont": "Lato", "titleFontSize": 17, "titleFontWeight": "normal", "titleColor": "#111", "titlePadding": -3,
               "labelOrient": "bottom", "labelFont": "Lato", "labelFontSize": 12, "labelColor": "#222", "labelPadding": 4}}},
  "spacing": 0,
  "spec": {
   "width": 107, "height": 156,
   "resolve": {"scale": {"x": "independent"}},
   "layer": [
    {"transform": [{"aggregate": [{"op": "count", "as": "n"}], "groupby": ["c"]}],
     "mark": {"type": "rule", "color": "#a3a3a3", "strokeWidth": 1.8},
     "encoding": {"y": {"datum": 0, "type": "quantitative", "scale": {"domain": [0, 1.2], "nice": false}, "title": "Proportion Correct", "axis": {"values": [0,0.2,0.4,0.6,0.8,1,1.2], "labelExpr": "datum.value > 1.1 ? '' : datum.label", "format": "~g"}}}},
    {"transform": [{"filter": "datum.k == 'o'"}],
     "mark": {"type": "area", "orient": "horizontal", "interpolate": "monotone", "fillOpacity": 0.55, "strokeWidth": 1.2},
     "encoding": {
      "y": {"field": "v", "type": "quantitative", "scale": {"domain": [0, 1.2], "nice": false}, "title": "Proportion Correct", "axis": {"values": [0,0.2,0.4,0.6,0.8,1,1.2], "labelExpr": "datum.value > 1.1 ? '' : datum.label", "format": "~g"}},
      "x": {"field": "w", "type": "quantitative", "stack": "center", "impute": null, "scale": {"domain": [-27.5, 79.5], "nice": false, "zero": false}, "axis": null},
      "color": {"field": "c", "type": "nominal", "scale": {"domain": ["RP + AM + AI","CM - AM - AI","CM - AM + AI","CM + AM + AI"], "range": ["#1a8f8b","#8b1a1a","#24997a","#1f7b88"]}, "legend": null},
      "stroke": {"field": "c", "type": "nominal", "scale": {"domain": ["RP + AM + AI","CM - AM - AI","CM - AM + AI","CM + AM + AI"], "range": ["#1a8f8b","#8b1a1a","#24997a","#1f7b88"]}, "legend": null}
     }},
    {"transform": [{"filter": "datum.k == 'd'"}],
     "mark": {"type": "boxplot", "extent": 1.5, "size": 14, "outliers": false, "box": {"fillOpacity": 0.45, "strokeWidth": 1.3}, "rule": {"strokeWidth": 1.3}, "median": {"thickness": 1.3}},
     "encoding": {
      "y": {"field": "v", "type": "quantitative", "scale": {"domain": [0, 1.2], "nice": false}, "title": "Proportion Correct", "axis": {"values": [0,0.2,0.4,0.6,0.8,1,1.2], "labelExpr": "datum.value > 1.1 ? '' : datum.label", "format": "~g"}},
      "color": {"field": "c", "type": "nominal", "scale": {"domain": ["RP + AM + AI","CM - AM - AI","CM - AM + AI","CM + AM + AI"], "range": ["#1a8f8b","#8b1a1a","#24997a","#1f7b88"]}, "legend": null},
      "stroke": {"field": "c", "type": "nominal", "scale": {"domain": ["RP + AM + AI","CM - AM - AI","CM - AM + AI","CM + AM + AI"], "range": ["#1a8f8b","#8b1a1a","#24997a","#1f7b88"]}, "legend": null}
     }},
    {"transform": [{"filter": "datum.k == 'd'"}],
     "mark": {"type": "circle", "size": 7, "opacity": 1},
     "encoding": {
      "x": {"field": "j", "type": "quantitative", "scale": {"domain": [-0.5, 6.1875], "nice": false, "zero": false}, "axis": null},
      "y": {"field": "v", "type": "quantitative", "scale": {"domain": [0, 1.2], "nice": false}, "title": "Proportion Correct", "axis": {"values": [0,0.2,0.4,0.6,0.8,1,1.2], "labelExpr": "datum.value > 1.1 ? '' : datum.label", "format": "~g"}},
      "color": {"field": "c", "type": "nominal", "scale": {"domain": ["RP + AM + AI","CM - AM - AI","CM - AM + AI","CM + AM + AI"], "range": ["#1a8f8b","#8b1a1a","#24997a","#1f7b88"]}, "legend": null}
     }}
   ]
  }
 },
 {
  "data": {"name": "inf"},
  "title": {"text": "B", "anchor": "start", "frame": "bounds", "font": "Liberation Sans", "fontSize": 16, "fontWeight": "bold", "color": "#000", "offset": -9},
  "facet": {"column": {"field": "c", "type": "nominal", "sort": ["RP + AM + AI","CM - AM - AI","CM - AM + AI","CM + AM + AI"],
    "header": {"title": "Inference Questions", "titleOrient": "top", "titleFont": "Lato", "titleFontSize": 17, "titleFontWeight": "normal", "titleColor": "#111", "titlePadding": -3,
               "labelOrient": "bottom", "labelFont": "Lato", "labelFontSize": 12, "labelColor": "#222", "labelPadding": 4}}},
  "spacing": 0,
  "spec": {
   "width": 107, "height": 150,
   "resolve": {"scale": {"x": "independent"}},
   "layer": [
    {"transform": [{"aggregate": [{"op": "count", "as": "n"}], "groupby": ["c"]}],
     "mark": {"type": "rule", "color": "#a3a3a3", "strokeWidth": 1.8},
     "encoding": {"y": {"datum": 0, "type": "quantitative", "scale": {"domain": [-0.08, 1.2], "nice": false}, "title": "Proportion Correct", "axis": {"values": [0,0.2,0.4,0.6,0.8,1,1.2], "labelExpr": "datum.value > 1.1 ? '' : datum.label", "format": "~g"}}}},
    {"transform": [{"filter": "datum.k == 'o'"}],
     "mark": {"type": "area", "orient": "horizontal", "interpolate": "monotone", "fillOpacity": 0.55, "strokeWidth": 1.2},
     "encoding": {
      "y": {"field": "v", "type": "quantitative", "scale": {"domain": [-0.08, 1.2], "nice": false}, "title": "Proportion Correct", "axis": {"values": [0,0.2,0.4,0.6,0.8,1,1.2], "labelExpr": "datum.value > 1.1 ? '' : datum.label", "format": "~g"}},
      "x": {"field": "w", "type": "quantitative", "stack": "center", "impute": null, "scale": {"domain": [-27.5, 79.5], "nice": false, "zero": false}, "axis": null},
      "color": {"field": "c", "type": "nominal", "scale": {"domain": ["RP + AM + AI","CM - AM - AI","CM - AM + AI","CM + AM + AI"], "range": ["#1a8f8b","#8b1a1a","#24997a","#1f7b88"]}, "legend": null},
      "stroke": {"field": "c", "type": "nominal", "scale": {"domain": ["RP + AM + AI","CM - AM - AI","CM - AM + AI","CM + AM + AI"], "range": ["#1a8f8b","#8b1a1a","#24997a","#1f7b88"]}, "legend": null}
     }},
    {"transform": [{"filter": "datum.k == 'd'"}],
     "mark": {"type": "boxplot", "extent": 1.5, "size": 14, "outliers": false, "box": {"fillOpacity": 0.45, "strokeWidth": 1.3}, "rule": {"strokeWidth": 1.3}, "median": {"thickness": 1.3}},
     "encoding": {
      "y": {"field": "v", "type": "quantitative", "scale": {"domain": [-0.08, 1.2], "nice": false}, "title": "Proportion Correct", "axis": {"values": [0,0.2,0.4,0.6,0.8,1,1.2], "labelExpr": "datum.value > 1.1 ? '' : datum.label", "format": "~g"}},
      "color": {"field": "c", "type": "nominal", "scale": {"domain": ["RP + AM + AI","CM - AM - AI","CM - AM + AI","CM + AM + AI"], "range": ["#1a8f8b","#8b1a1a","#24997a","#1f7b88"]}, "legend": null},
      "stroke": {"field": "c", "type": "nominal", "scale": {"domain": ["RP + AM + AI","CM - AM - AI","CM - AM + AI","CM + AM + AI"], "range": ["#1a8f8b","#8b1a1a","#24997a","#1f7b88"]}, "legend": null}
     }},
    {"transform": [{"filter": "datum.k == 'd'"}],
     "mark": {"type": "circle", "size": 7, "opacity": 1},
     "encoding": {
      "x": {"field": "j", "type": "quantitative", "scale": {"domain": [-0.5, 6.1875], "nice": false, "zero": false}, "axis": null},
      "y": {"field": "v", "type": "quantitative", "scale": {"domain": [-0.08, 1.2], "nice": false}, "title": "Proportion Correct", "axis": {"values": [0,0.2,0.4,0.6,0.8,1,1.2], "labelExpr": "datum.value > 1.1 ? '' : datum.label", "format": "~g"}},
      "color": {"field": "c", "type": "nominal", "scale": {"domain": ["RP + AM + AI","CM - AM - AI","CM - AM + AI","CM + AM + AI"], "range": ["#1a8f8b","#8b1a1a","#24997a","#1f7b88"]}, "legend": null}
     }}
   ]
  }
 }
]
}
